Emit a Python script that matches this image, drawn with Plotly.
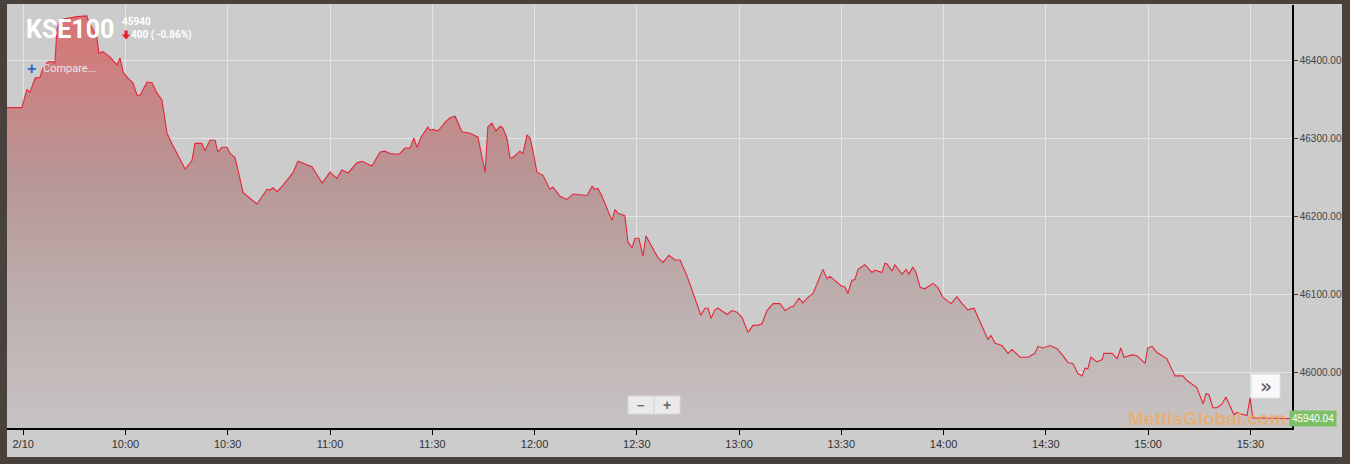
import pandas as pd
import plotly.graph_objects as go

# ---- data (minutes after 09:30 on 2/10, index value) ----
session_date = "2022-02-10 09:30"
minutes = [-4.8, -0.4, 1.1, 2.0, 3.5, 4.9, 5.8, 7.3, 8.7, 9.3, 9.9, 10.8, 15.8, 18.7, 19.0,
           21.6, 22.2, 23.4, 25.5, 27.5, 28.4, 29.3, 30.7, 32.2, 33.4, 34.3, 36.3, 37.8, 39.2,
           40.7, 42.2, 43.6, 47.5, 49.5, 50.4, 52.4, 53.3, 54.8, 56.3, 57.1, 58.3, 59.8, 60.7,
           62.1, 63.0, 64.5, 68.0, 68.6, 70.0, 71.5, 72.4, 73.3, 74.5, 76.2, 79.1, 80.6, 84.7,
           87.7, 90.0, 92.0, 93.5, 95.3, 97.9, 99.4, 102.3, 104.7, 106.1, 107.6, 109.7, 110.5,
           112.0, 113.5, 114.6, 115.5, 116.7, 118.7, 119.3, 120.2, 121.7, 123.7, 125.2, 126.7,
           128.7, 131.1, 133.4, 135.5, 136.3, 137.5, 138.7, 139.9, 140.7, 141.9, 142.8, 143.7,
           145.7, 146.6, 147.8, 148.7, 149.5, 150.7, 152.5, 154.5, 155.4, 157.5, 159.5, 161.3,
           165.4, 166.9, 167.7, 168.6, 169.8, 172.7, 173.6, 174.5, 176.5, 177.4, 178.6, 179.5,
           180.6, 181.8, 182.7, 184.7, 186.2, 187.7, 189.4, 191.2, 192.7, 194.7, 197.1, 198.8,
           200.0, 200.9, 201.8, 202.9, 203.8, 206.5, 207.9, 209.4, 210.9, 212.6, 214.1, 215.5,
           216.7, 218.2, 220.0, 222.0, 223.5, 225.2, 225.8, 227.6, 228.7, 230.2, 231.7, 234.6,
           235.8, 236.7, 239.9, 241.1, 241.9, 243.1, 244.0, 244.9, 246.9, 249.0, 249.9, 251.9,
           252.8, 253.4, 254.9, 255.7, 257.8, 259.0, 259.8, 261.0, 261.9, 263.1, 264.5, 266.9,
           268.3, 269.8, 272.2, 273.9, 275.4, 277.1, 278.9, 280.1, 281.3, 283.0, 283.9, 285.1,
           287.1, 288.9, 290.1, 292.4, 294.8, 296.8, 297.7, 299.1, 301.2, 303.3, 305.0, 306.5,
           307.9, 309.4, 310.6, 311.5, 312.3, 313.2, 315.0, 316.5, 317.0, 319.4, 320.9, 322.0,
           322.9, 325.3, 326.7, 329.1, 329.9, 331.1, 332.6, 335.5, 337.9, 340.2, 341.4, 344.3,
           346.1, 347.0, 347.8, 349.0, 350.2, 351.7, 352.8, 354.0, 355.2, 356.1, 357.2, 359.0,
           359.9, 360.7, 371.6]
values = [46340, 46340, 46363, 46360, 46378, 46379, 46391, 46399, 46399, 46397, 46440, 46453,
          46457, 46458, 46453, 46431, 46410, 46412, 46405, 46395, 46404, 46386, 46378, 46372,
          46356, 46356, 46373, 46372, 46359, 46350, 46307, 46294, 46261, 46272, 46294, 46294,
          46285, 46298, 46298, 46283, 46289, 46289, 46281, 46276, 46260, 46231, 46218, 46216,
          46225, 46235, 46234, 46237, 46232, 46240, 46256, 46271, 46264, 46243, 46257, 46249,
          46260, 46256, 46269, 46271, 46265, 46283, 46284, 46281, 46280, 46281, 46288, 46288,
          46301, 46289, 46302, 46315, 46311, 46312, 46310, 46321, 46327, 46329, 46309, 46307,
          46302, 46257, 46315, 46320, 46310, 46316, 46314, 46301, 46275, 46276, 46284, 46281,
          46305, 46301, 46285, 46257, 46253, 46235, 46238, 46226, 46222, 46229, 46227, 46239,
          46235, 46236, 46226, 46195, 46209, 46204, 46201, 46167, 46160, 46172, 46172, 46149,
          46175, 46159, 46147, 46141, 46150, 46144, 46144, 46124, 46095, 46073, 46082, 46082,
          46069, 46080, 46082, 46074, 46079, 46077, 46070, 46051, 46060, 46060, 46062, 46079,
          46088, 46088, 46079, 46084, 46084, 46095, 46089, 46096, 46101, 46132, 46120, 46123,
          46111, 46109, 46101, 46118, 46119, 46132, 46138, 46128, 46131, 46128, 46140, 46139,
          46130, 46138, 46126, 46132, 46126, 46135, 46128, 46109, 46107, 46114, 46109, 46096,
          46088, 46097, 46088, 46080, 46082, 46070, 46057, 46042, 46047, 46037, 46034, 46024,
          46029, 46019, 46019, 46024, 46033, 46031, 46034, 46030, 46021, 46012, 46011, 45998,
          45995, 46005, 46004, 46019, 46013, 46016, 46024, 46024, 46017, 46031, 46019, 46022,
          46021, 46011, 46031, 46033, 46025, 46017, 45995, 45995, 45989, 45980, 45959, 45972,
          45971, 45954, 45954, 45959, 45968, 45957, 45945, 45948, 45946, 45944, 45967, 45941,
          45940.04]

tick_minutes = [0, 30, 60, 90, 120, 150, 180, 210, 240, 270, 300, 330, 360]
tick_labels = ["2/10", "10:00", "10:30", "11:00", "11:30", "12:00", "12:30",
               "13:00", "13:30", "14:00", "14:30", "15:00", "15:30"]
y_ticks = [46000, 46100, 46200, 46300, 46400]
x_range_minutes = [-4.75, 372.2]
y_range = [45928, 46472]

index_name = "KSE100"
last_value = 45940
change_text = "400 ( -0.86%)"
last_badge = "45940.04"
watermark = "MettisGlobal.com"

base = pd.Timestamp(session_date)
times = [base + pd.Timedelta(minutes=m) for m in minutes]
tick_times = [base + pd.Timedelta(minutes=m) for m in tick_minutes]
x_range = [base + pd.Timedelta(minutes=m) for m in x_range_minutes]

W, H = 1350, 464
ML, MR, MT, MB = 7, 58, 5, 36
PW, PH = W - ML - MR, H - MT - MB


def px(x):
    return (x - ML) / PW


def py(y):
    return (H - MB - y) / PH


def path(points):
    return "M " + " L ".join(f"{px(a):.5f},{py(b):.5f}" for a, b in points) + " Z"


BG = "#cccccc"
FRAME = "#48413c"

fig = go.Figure()
fig.add_trace(go.Scatter(
    x=times, y=values, mode="lines",
    line=dict(color="#e2283a", width=1.1),
    fill="tozeroy",
    fillgradient=dict(
        type="vertical",
        start=y_range[0], stop=46460,
        colorscale=[[0.0, "#c7c2c2"], [0.3, "#bdafaf"], [0.6, "#b89696"], [1.0, "#d87474"]],
    ),
    hoverinfo="skip", showlegend=False,
))

shapes = [
    # dark outer frame
    dict(type="rect", xref="paper", yref="paper", x0=px(0), x1=px(7), y0=py(464), y1=py(0),
         fillcolor=FRAME, line_width=0, layer="above"),
    dict(type="rect", xref="paper", yref="paper", x0=px(1342), x1=px(1350), y0=py(464), y1=py(0),
         fillcolor=FRAME, line_width=0, layer="above"),
    dict(type="rect", xref="paper", yref="paper", x0=px(0), x1=px(1350), y0=py(4), y1=py(0),
         fillcolor=FRAME, line_width=0, layer="above"),
    dict(type="rect", xref="paper", yref="paper", x0=px(0), x1=px(1350), y0=py(464), y1=py(457),
         fillcolor=FRAME, line_width=0, layer="above"),
    # red down arrow next to change text
    dict(type="path", xref="paper", yref="paper",
         path=path([(124.6, 30.5), (127.6, 30.5), (127.6, 34.5), (130.4, 34.5), (126.1, 39.5),
                    (121.8, 34.5), (124.6, 34.5)]),
         fillcolor="#e8202a", line_width=0, layer="above"),
    # zoom buttons
    dict(type="rect", xref="paper", yref="paper", x0=px(628), x1=px(680), y0=py(414), y1=py(396),
         fillcolor="rgba(236,236,236,0.95)", line=dict(color="#d6d6d6", width=1), layer="above"),
    dict(type="line", xref="paper", yref="paper", x0=px(654), x1=px(654), y0=py(413), y1=py(397),
         line=dict(color="#d0d0d0", width=1), layer="above"),
    # scroll button
    dict(type="rect", xref="paper", yref="paper", x0=px(1251), x1=px(1280), y0=py(398), y1=py(374),
         fillcolor="rgba(250,250,250,0.97)", line=dict(color="#e0e0e0", width=1), layer="above"),
]

annotations = [
    dict(x=px(24), y=py(30), xref="paper", yref="paper", xanchor="left", yanchor="middle",
         text="<b>" + index_name + "</b>", showarrow=False,
         font=dict(family="Roboto, sans-serif", size=25, color="white")),
    dict(x=px(120), y=py(21), xref="paper", yref="paper", xanchor="left", yanchor="middle",
         text="<b>" + str(last_value) + "</b>", showarrow=False,
         font=dict(family="Roboto, Liberation Sans, sans-serif", size=10, color="white")),
    dict(x=px(129), y=py(35), xref="paper", yref="paper", xanchor="left", yanchor="middle",
         text="<b>" + change_text + "</b>", showarrow=False,
         font=dict(family="Roboto, Liberation Sans, sans-serif", size=10, color="white")),
    dict(x=px(25), y=py(68), xref="paper", yref="paper", xanchor="left", yanchor="middle",
         text="<b>+</b>", showarrow=False,
         font=dict(family="Liberation Sans, sans-serif", size=16, color="#2a62c8")),
    dict(x=px(41), y=py(68), xref="paper", yref="paper", xanchor="left", yanchor="middle",
         text="Compare...", showarrow=False,
         font=dict(family="Roboto, Liberation Sans, sans-serif", size=11, color="#e6e6e6")),
    dict(x=px(641), y=py(405), xref="paper", yref="paper", xanchor="center", yanchor="middle",
         text="<b>−</b>", showarrow=False,
         font=dict(family="Liberation Sans, sans-serif", size=13, color="#6a6a6a")),
    dict(x=px(667), y=py(405), xref="paper", yref="paper", xanchor="center", yanchor="middle",
         text="<b>+</b>", showarrow=False,
         font=dict(family="Liberation Sans, sans-serif", size=14, color="#6a6a6a")),
    dict(x=px(1266), y=py(386), xref="paper", yref="paper", xanchor="center", yanchor="middle",
         text="»", showarrow=False,
         font=dict(family="DejaVu Sans, sans-serif", size=20, color="#555555")),
    dict(x=px(1126), y=py(418), xref="paper", yref="paper", xanchor="left", yanchor="middle",
         text="<b>" + watermark + "</b>", showarrow=False,
         font=dict(family="Liberation Sans, Arial, sans-serif", size=19, color="rgba(242,168,92,0.72)")),
    dict(x=px(1289), y=values[-1], xref="paper", yref="y", xanchor="left", yanchor="middle",
         text=last_badge, showarrow=False, bgcolor="#7dbf64", borderpad=2,
         font=dict(family="Liberation Sans, Arial, sans-serif", size=10, color="white")),
]

fig.update_layout(
    width=W, height=H,
    margin=dict(l=ML, r=MR, t=MT, b=MB),
    paper_bgcolor=BG, plot_bgcolor=BG,
    font=dict(family="Liberation Sans, Arial, sans-serif", color="#333333"),
    showlegend=False,
    shapes=shapes,
    annotations=annotations,
    xaxis=dict(
        range=x_range, tickvals=tick_times, ticktext=tick_labels,
        showgrid=True, gridcolor="#e4e4e4", gridwidth=1,
        showline=True, linecolor="black", linewidth=1.5,
        ticks="outside", ticklen=5, tickcolor="black", tickwidth=1,
        tickfont=dict(size=11, color="#333333"),
        zeroline=False, fixedrange=True,
    ),
    yaxis=dict(
        range=y_range, side="right", tickvals=y_ticks, tickformat=".2f",
        showgrid=True, gridcolor="#e4e4e4", gridwidth=1,
        showline=True, linecolor="black", linewidth=1.5,
        ticks="outside", ticklen=4, tickcolor="#333333", tickwidth=1,
        tickfont=dict(size=10, color="#444444"),
        zeroline=False, fixedrange=True,
    ),
)

fig.write_html(
    "out.html",
    config={"displayModeBar": False},
    post_script="document.body.style.margin='0';document.body.style.overflow='hidden';",
)
